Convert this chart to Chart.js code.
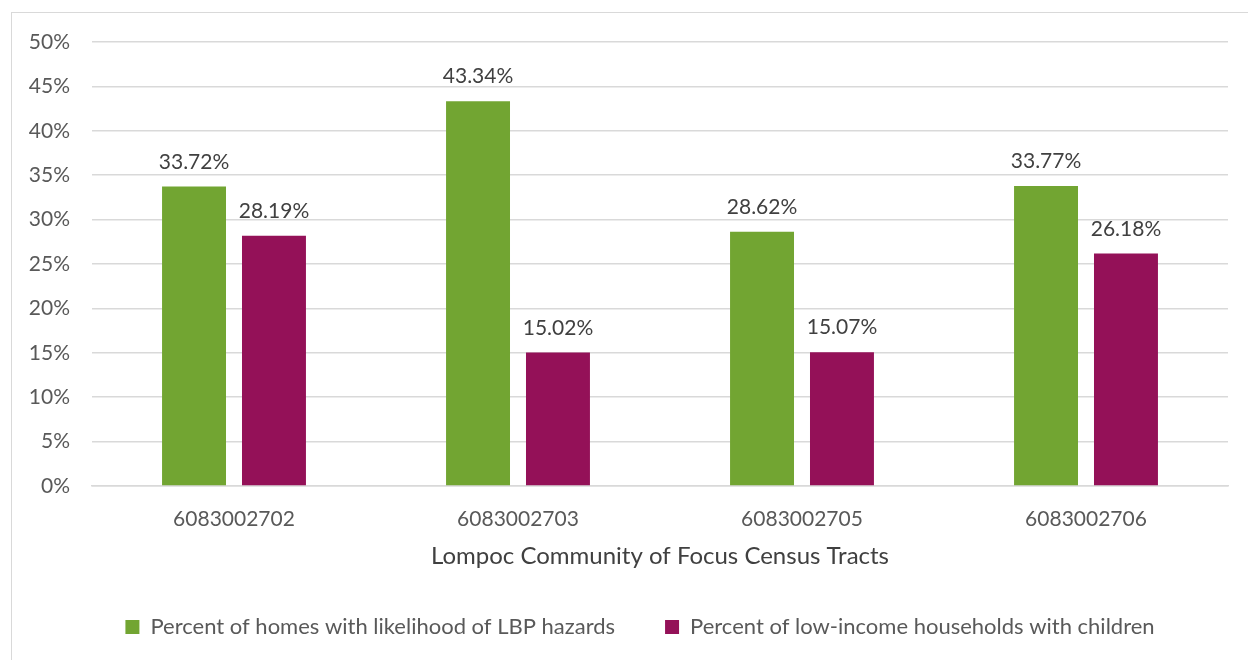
<!DOCTYPE html>
<html>
<head>
<meta charset="utf-8">
<script src="https://cdn.jsdelivr.net/npm/chart.js@4.4.1/dist/chart.umd.min.js"></script>
<style>
  html, body { margin: 0; padding: 0; background: #fff; }
  #frame {
    position: absolute; left: 11px; top: 12px; width: 1300px; height: 700px;
    border: 1.5px solid #d9d9d9; box-sizing: border-box;
  }
  #wrap { position: absolute; left: 0; top: 0; width: 1248px; height: 660px; }
</style>
</head>
<body>
<div id="frame"></div>
<div id="wrap"><canvas id="lbpChart" width="1248" height="660"></canvas></div>
<script>
// --- data ---
const tracts = ['6083002702', '6083002703', '6083002705', '6083002706'];
const lbpHazard = [33.72, 43.34, 28.62, 33.77];
const lowIncomeKids = [28.19, 15.02, 15.07, 26.18];
const seriesNames = ['Percent of homes with likelihood of LBP hazards', 'Percent of low-income households with children'];
const yTicks = [0, 5, 10, 15, 20, 25, 30, 35, 40, 45, 50];

const FONT = "Lato, 'Open Sans', sans-serif";
const GREY = '#595959';

// small plugin for value labels above the bars
const barLabels = {
    id: 'barLabels',
    afterDatasetsDraw(chart) {
        const c = chart.ctx;
        c.save();
        c.font = '21px ' + FONT;
        c.fillStyle = '#404040';
        c.textAlign = 'center';
        c.textBaseline = 'bottom';
        chart.data.datasets.forEach((ds, i) => {
            chart.getDatasetMeta(i).data.forEach((bar, j) => {
                c.fillText(ds.data[j].toFixed(2) + '%', bar.x, bar.y - 14);
            });
        });
        c.restore();
    }
};

// legend sits centred on the outer frame, not the canvas
const legendShift = {
    id: 'legendShift',
    afterLayout(chart) {
        chart.legend.left += 16;
        chart.legend.right += 16;
    }
};

const ctx = document.getElementById('lbpChart').getContext('2d');
new Chart(ctx, {
    type: 'bar',
    data: {
        labels: tracts,
        datasets: [{
            label: seriesNames[0],
            data: lbpHazard,
            backgroundColor: '#72a532'
        }, {
            label: seriesNames[1],
            data: lowIncomeKids,
            backgroundColor: '#941158'
        }]
    },
    options: {
        responsive: false,
        animation: false,
        categoryPercentage: 0.563,
        barPercentage: 0.8,
        layout: { padding: { left: 20, right: 20, top: 42, bottom: 12 } },
        plugins: {
            legend: {
                position: 'bottom',
                labels: {
                    font: { family: FONT, size: 22 },
                    color: GREY,
                    boxWidth: 14,
                    boxHeight: 14,
                    padding: 50,
                    useBorderRadius: false
                }
            },
            tooltip: { enabled: false }
        },
        scales: {
            x: {
                grid: { display: false },
                border: { color: '#d9d9d9', width: 1.5 },
                ticks: { font: { family: FONT, size: 21 }, color: GREY, padding: 12.5 },
                title: {
                    display: true,
                    text: 'Lompoc Community of Focus Census Tracts',
                    font: { family: FONT, size: 24 },
                    color: '#404040',
                    padding: { top: -2, bottom: -5 }
                }
            },
            y: {
                min: 0,
                max: 50,
                afterBuildTicks: (axis) => { axis.ticks = yTicks.map(v => ({ value: v })); },
                afterFit: (axis) => { axis.width = 72; },
                grid: { color: '#d9d9d9', lineWidth: 1.5, drawTicks: false },
                border: { display: false },
                ticks: {
                    font: { family: FONT, size: 21 },
                    color: GREY,
                    padding: 22,
                    callback: (v) => v + '%'
                }
            }
        }
    },
    plugins: [barLabels, legendShift]
});
</script>
</body>
</html>
